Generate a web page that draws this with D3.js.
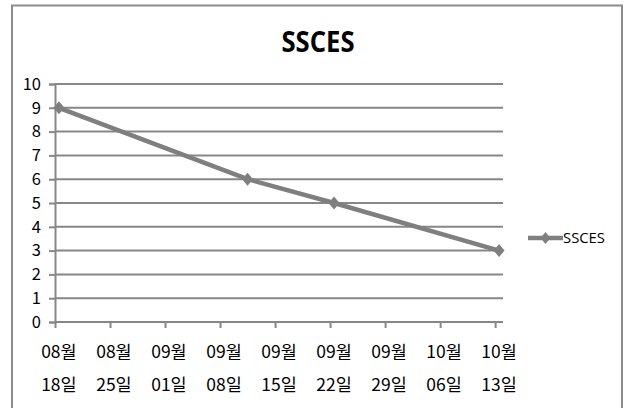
<!DOCTYPE html>
<html>
<head>
<meta charset="utf-8">
<script src="https://cdn.jsdelivr.net/npm/d3@7"></script>
<style>
  html, body { margin: 0; padding: 0; background: #fff; }
  svg { display: block; }
</style>
</head>
<body>
<svg id="chart" width="625" height="408"></svg>
<script>
// Series: observation dates and values
const seriesName = "SSCES";
const obsDates = ["2014-08-18", "2014-09-11", "2014-09-22", "2014-10-13"];
const obsValues = [9, 6, 5, 3];

// Axis settings
const yTicks = [0, 1, 2, 3, 4, 5, 6, 7, 8, 9, 10];
const xStart = "2014-08-18";
const xEnd = "2014-10-14";

const svg = d3.select("#chart");
const W = 625, H = 408;
const gray = "#878787";
const lineGray = "#7f7f7f";

// Chart frame
svg.append("rect")
  .attr("x", 12).attr("y", 5.5)
  .attr("width", 610).attr("height", H + 10)
  .attr("fill", "#fff")
  .attr("stroke", "#8c8c8c").attr("stroke-width", 2);

// Title
svg.append("text")
  .attr("x", 318).attr("y", 52)
  .attr("text-anchor", "middle")
  .attr("font-family", "'Open Sans', sans-serif")
  .attr("font-weight", 700)
  .attr("font-size", 28)
  .attr("textLength", 73)
  .attr("lengthAdjust", "spacingAndGlyphs")
  .attr("fill", "#000")
  .text(seriesName);

const parse = d3.utcParse("%Y-%m-%d");
const x = d3.scaleUtc()
  .domain([parse(xStart), parse(xEnd)])
  .range([55, 503]);
const y = d3.scaleLinear().domain([0, 10]).range([322, 84]);

// Day centres (points sit in the middle of their day slot)
const mid = d => d3.utcHour.offset(d, 12);

// Horizontal gridlines
svg.append("g")
  .selectAll("line")
  .data(yTicks.filter(v => v > 0))
  .join("line")
  .attr("x1", 55).attr("x2", 503)
  .attr("y1", d => y(d)).attr("y2", d => y(d))
  .attr("stroke", gray).attr("stroke-width", 2);

// Y axis
const yAxis = svg.append("g")
  .attr("transform", "translate(55,0)")
  .call(d3.axisLeft(y).tickValues(yTicks).tickSize(6).tickPadding(8).tickFormat(d3.format("d")));
yAxis.select(".domain").attr("stroke", gray).attr("stroke-width", 2);
yAxis.selectAll(".tick line").attr("stroke", gray).attr("stroke-width", 2);
yAxis.selectAll(".tick text")
  .attr("font-family", "'Noto Sans CJK KR', 'Noto Sans', sans-serif")
  .attr("font-size", 16.5)
  .attr("fill", "#000");

// X axis with weekly ticks
const weekTicks = d3.utcDay.range(parse(xStart), parse(xEnd), 7);
const xAxis = svg.append("g")
  .attr("transform", "translate(0,322)")
  .call(d3.axisBottom(x).tickValues(weekTicks).tickSize(6).tickFormat(""));
xAxis.select(".domain").attr("stroke", gray).attr("stroke-width", 2)
  .attr("d", "M55,0H503");
xAxis.selectAll(".tick line").attr("stroke", gray).attr("stroke-width", 2);

// Two-line date labels (month / day) under each tick
const fmtM = d3.utcFormat("%m");
const fmtD = d3.utcFormat("%d");
const labels = svg.append("g")
  .attr("font-family", "'Noto Sans CJK KR', sans-serif")
  .attr("font-size", 17.5)
  .attr("fill", "#000")
  .attr("text-anchor", "middle");
labels.selectAll("text.m")
  .data(weekTicks)
  .join("text")
  .attr("class", "m")
  .attr("x", d => x(mid(d)))
  .attr("y", 358)
  .text(d => fmtM(d) + "월");
labels.selectAll("text.d")
  .data(weekTicks)
  .join("text")
  .attr("class", "d")
  .attr("x", d => x(mid(d)))
  .attr("y", 391)
  .text(d => fmtD(d) + "일");

// Series line and diamond markers
const pts = obsDates.map((d, i) => ({ date: parse(d), value: obsValues[i] }));
const line = d3.line()
  .x(d => x(mid(d.date)))
  .y(d => y(d.value));
svg.append("path")
  .datum(pts)
  .attr("d", line)
  .attr("fill", "none")
  .attr("stroke", lineGray)
  .attr("stroke-width", 4.5)
  .attr("stroke-linejoin", "round");

const diamond = (cx, cy, hw, hh) => `M${cx},${cy - hh}L${cx + hw},${cy}L${cx},${cy + hh}L${cx - hw},${cy}Z`;
svg.append("g")
  .selectAll("path")
  .data(pts)
  .join("path")
  .attr("d", d => diamond(x(mid(d.date)), y(d.value), 5.5, 6.5))
  .attr("fill", lineGray);

// Legend
const lg = svg.append("g");
lg.append("line")
  .attr("x1", 528).attr("x2", 563)
  .attr("y1", 238).attr("y2", 238)
  .attr("stroke", lineGray).attr("stroke-width", 4.5);
lg.append("path")
  .attr("d", diamond(545.5, 238, 5, 6))
  .attr("fill", lineGray);
lg.append("text")
  .attr("x", 563).attr("y", 243)
  .attr("font-family", "'Open Sans', sans-serif")
  .attr("font-size", 14)
  .attr("textLength", 42)
  .attr("lengthAdjust", "spacingAndGlyphs")
  .attr("fill", "#000")
  .text(seriesName);
</script>
</body>
</html>
